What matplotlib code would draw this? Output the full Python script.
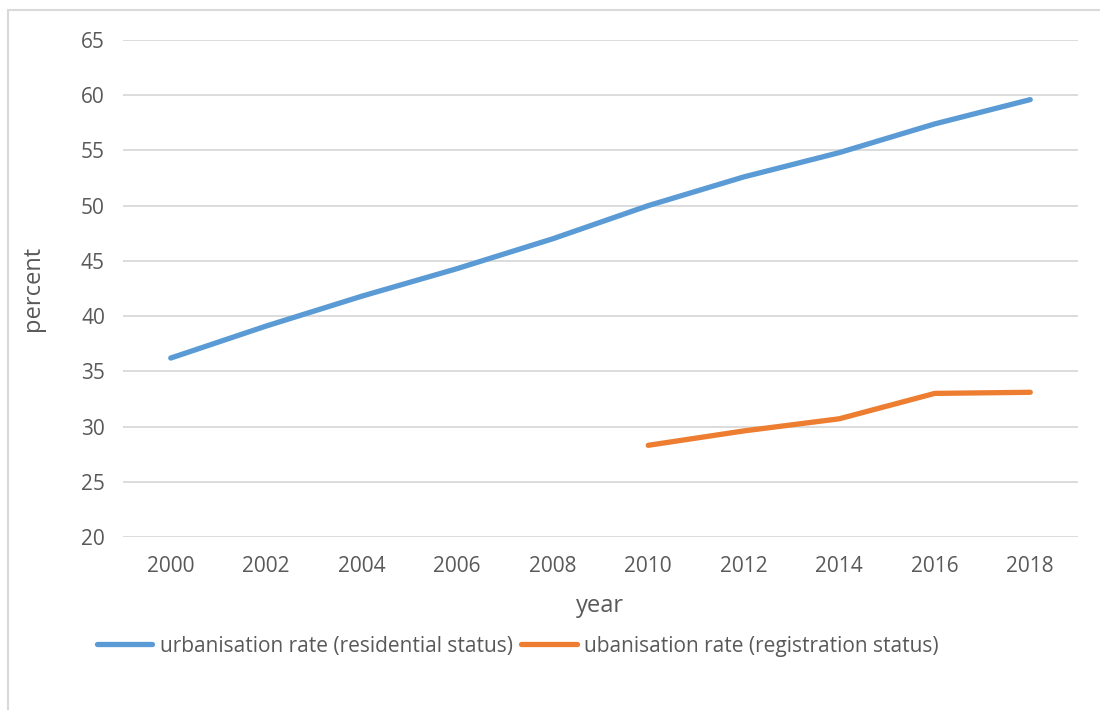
import matplotlib
matplotlib.use("Agg")
from matplotlib import pyplot as plt
from matplotlib.lines import Line2D

years = ["2000", "2002", "2004", "2006", "2008", "2010", "2012", "2014", "2016", "2018"]
residential = [36.2, 39.1, 41.8, 44.3, 47.0, 50.0, 52.6, 54.8, 57.4, 59.6]
registration_years = ["2010", "2012", "2014", "2016", "2018"]
registration = [28.3, 29.6, 30.7, 33.0, 33.1]

TEXT = "#595959"
GRID = "#d9d9d9"
plt.rcParams["font.family"] = ["Open Sans", "DejaVu Sans"]

fig = plt.figure(figsize=(11, 7.1), dpi=100)
ax = fig.add_axes([0.1118, 0.2437, 0.8682, 0.7000])

x = list(range(len(years)))
x_reg = [years.index(y) for y in registration_years]
ax.plot(x, residential, color="#5b9bd5", lw=3.8, solid_capstyle="round",
        solid_joinstyle="round", label="urbanisation rate (residential status)")
ax.plot(x_reg, registration, color="#ed7d31", lw=3.8, solid_capstyle="round",
        solid_joinstyle="round", label="ubanisation rate (registration status)")

ax.set_xlim(-0.5, len(years) - 0.5)
ax.set_ylim(20, 65)
ax.set_yticks(range(20, 70, 5))
ax.set_xticks(x)
ax.set_xticklabels(years)
ax.grid(axis="y", color=GRID, lw=1.3)
ax.set_axisbelow(True)
for s in ax.spines.values():
    s.set_visible(False)
ax.tick_params(length=0, labelsize=15, labelcolor=TEXT)
ax.tick_params(axis="x", pad=14)
ax.tick_params(axis="y", pad=13)

ax.set_xlabel("year", fontsize=17, color=TEXT, labelpad=12)
ax.set_ylabel("percent", fontsize=17, color=TEXT, labelpad=26)

fig.legend(loc="center left", bbox_to_anchor=(0.071, 0.090), ncol=2, frameon=False,
           fontsize=15, labelcolor=TEXT, handlelength=2.65, handletextpad=0.38,
           columnspacing=0.4)

# chart area border
fig.add_artist(Line2D([8 / 1100, 8 / 1100], [0, 1 - 10 / 710], color=GRID, lw=1.5))
fig.add_artist(Line2D([8 / 1100, 1], [1 - 10 / 710, 1 - 10 / 710], color=GRID, lw=1.5))

fig.savefig("out.png", dpi=100)
